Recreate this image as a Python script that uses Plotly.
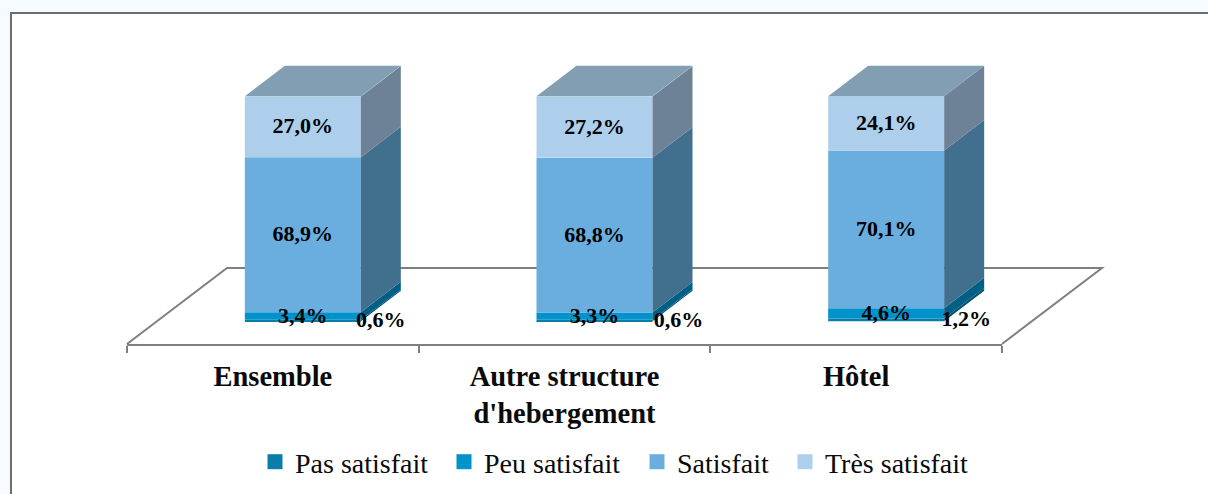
import plotly.graph_objects as go

categories = ["Ensemble", "Autre structure<br>d'hebergement", "Hôtel"]
series_names = ["Pas satisfait", "Peu satisfait", "Satisfait", "Très satisfait"]
pas_satisfait = [0.6, 0.6, 1.2]
peu_satisfait = [3.4, 3.3, 4.6]
satisfait = [68.9, 68.8, 70.1]
tres_satisfait = [27.0, 27.2, 24.1]
series_values = [pas_satisfait, peu_satisfait, satisfait, tres_satisfait]

front_colors = ["#0a7dab", "#0093cb", "#6aaee0", "#aecfec"]
side_colors = ["#00506f", "#005f85", "#41708f", "#6e8297"]
top_color = "#819eb3"
legend_colors = ["#0a7dab", "#0093cb", "#6aaee0", "#aecfec"]
SERIF = "Liberation Serif"

W, H = 1208, 494
L, R, T, B = 127, 1002, 40, 344          # plot rectangle in page pixels
PX_PER_CAT = (R - L) / 3
PX_PER_PCT = 2.25
FLOOR_DX, FLOOR_DY = 100, 76             # depth of the floor in pixels
dx_full = FLOOR_DX / PX_PER_CAT
dy_full = FLOOR_DY / PX_PER_PCT
front_d, back_d = 0.30, 0.70             # bar depth inside the floor
bar_w = 116 / PX_PER_CAT
ymax = (B - T) / PX_PER_PCT

def px(v):
    return (v - L) / (R - L)

def py(v):
    return (B - v) / (B - T)

fig = go.Figure()
n = len(categories)
x_pos = list(range(n))
fx = [c + front_d * dx_full for c in x_pos]
base0 = front_d * dy_full
depth_x = (back_d - front_d) * dx_full
depth_y = (back_d - front_d) * dy_full

cum = [0.0] * n
levels = []
for vals in series_values:
    levels.append(list(cum))
    cum = [a + b for a, b in zip(cum, vals)]
levels.append(list(cum))

# front faces
for i, (name, vals) in enumerate(zip(series_names, series_values)):
    fig.add_trace(go.Bar(
        x=fx, y=vals, base=[base0 + s for s in levels[i]], width=bar_w,
        marker=dict(color=front_colors[i], line=dict(width=0)),
        showlegend=False, hoverinfo="skip"))

# side faces
for i, name in enumerate(series_names):
    xs, ys = [], []
    for k in range(n):
        x1 = fx[k] + bar_w / 2
        y0 = base0 + levels[i][k]
        y1 = base0 + levels[i + 1][k]
        xs += [x1, x1 + depth_x, x1 + depth_x, x1, x1, None]
        ys += [y0, y0 + depth_y, y1 + depth_y, y1, y0, None]
    fig.add_trace(go.Scatter(x=xs, y=ys, mode="lines", fill="toself", fillcolor=side_colors[i],
                             line=dict(width=0), showlegend=False, hoverinfo="skip"))

# top faces
xs, ys = [], []
for k in range(n):
    x0, x1 = fx[k] - bar_w / 2, fx[k] + bar_w / 2
    y = base0 + max(levels[-1])
    xs += [x0, x1, x1 + depth_x, x0 + depth_x, x0, None]
    ys += [y, y, y + depth_y, y + depth_y, y, None]
fig.add_trace(go.Scatter(x=xs, y=ys, mode="lines", fill="toself", fillcolor=top_color,
                         line=dict(width=0), showlegend=False, hoverinfo="skip"))

# data labels
def fmt(v):
    return f"{v:.1f}".replace(".", ",") + "%"

side_label_dx = [78 / PX_PER_CAT, 84 / PX_PER_CAT, 80 / PX_PER_CAT]
label_nudge = 1.0 / PX_PER_PCT
for i, vals in enumerate(series_values):
    lx, ly = [], []
    for k in range(n):
        mid = base0 + levels[i][k] + vals[k] / 2
        lx.append(fx[k] + side_label_dx[k] if i == 0 else fx[k])
        ly.append(mid - label_nudge)
    fig.add_trace(go.Scatter(
        x=lx, y=ly, mode="text", text=[fmt(v) for v in vals], textposition="middle center",
        textfont=dict(family=SERIF, size=22, color="#000000", weight="bold"),
        showlegend=False, hoverinfo="skip", cliponaxis=False))

# legend entries, each in its own legend so each sits at its own place
legend_ids = ["legend", "legend2", "legend3", "legend4"]
legend_left = [255, 444, 637, 785]
for i, name in enumerate(series_names):
    fig.add_trace(go.Scatter(
        x=[None], y=[None], mode="markers", name=name, legend=legend_ids[i],
        marker=dict(symbol="square", size=15, color=legend_colors[i], line=dict(width=0))))

layout_legends = {}
for lid, left in zip(legend_ids, legend_left):
    layout_legends[lid] = dict(
        xref="container", yref="container", x=left / W, y=1 - 462 / H,
        xanchor="left", yanchor="middle", orientation="h",
        bgcolor="rgba(0,0,0,0)", borderwidth=0,
        font=dict(family=SERIF, size=28, color="#0a0a0a"))

shapes = [
    dict(type="rect", xref="paper", yref="paper", layer="below",
         x0=px(11), x1=px(W + 40), y0=py(H + 40), y1=py(13),
         fillcolor="#ffffff", line=dict(color="#6e6e6e", width=2)),
    dict(type="path", xref="paper", yref="paper", layer="below",
         path=(f"M{px(L)},{py(B)} L{px(L + FLOOR_DX)},{py(B - FLOOR_DY)} "
               f"L{px(R + FLOOR_DX)},{py(B - FLOOR_DY)} L{px(R)},{py(B)}"),
         line=dict(color="#7f7f7f", width=2)),
]

fig.update_layout(
    width=W, height=H, barmode="overlay", autosize=False,
    margin=dict(l=L, r=W - R, t=T, b=H - B, pad=0, autoexpand=False),
    paper_bgcolor="#f5fbff", plot_bgcolor="rgba(0,0,0,0)",
    shapes=shapes,
    xaxis=dict(range=[-0.5, 2.5], tickmode="array", tickvals=x_pos, ticktext=categories,
               ticks="", showline=True, linecolor="#7f7f7f", linewidth=2, showgrid=False, zeroline=False,
               automargin=False,
               tickfont=dict(family=SERIF, size=28.5, color="#0a0a0a", weight="bold"),
               ticklabelstandoff=6,
               minor=dict(tickmode="array", tickvals=[-0.5, 0.5, 1.5, 2.5], ticks="outside",
                          ticklen=7, tickwidth=2, tickcolor="#7f7f7f", showgrid=False)),
    yaxis=dict(range=[0, ymax], visible=False, fixedrange=True, automargin=False),
    **layout_legends,
)

fig.write_html("out.html", config={"displayModeBar": False},
               post_script="document.body.style.margin='0';document.body.style.background='#f5fbff';")
